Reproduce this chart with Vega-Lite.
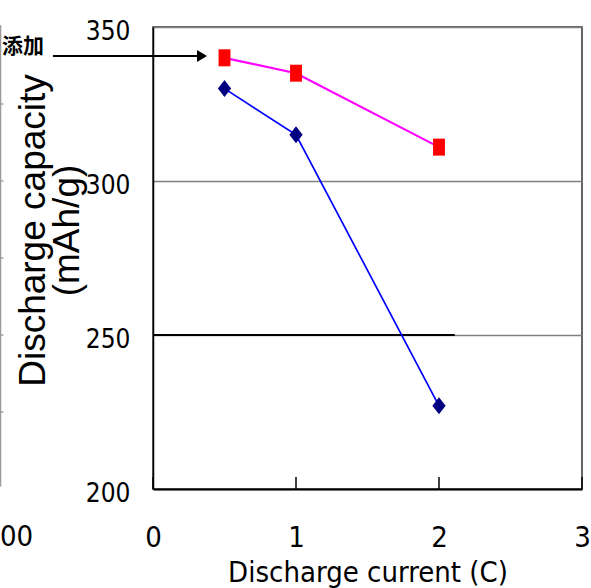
{
  "$schema": "https://vega.github.io/schema/vega-lite/v6.json",
  "width": 429,
  "height": 462,
  "autosize": "none",
  "padding": {"left": 153, "top": 27, "right": 9, "bottom": 99},
  "background": "white",
  "config": {"view": {"stroke": "#333333", "strokeWidth": 1.5}},
  "datasets": {
    "series": [
      {"s": "add", "x": 0.5, "y": 340},
      {"s": "add", "x": 1, "y": 335},
      {"s": "add", "x": 2, "y": 311},
      {"s": "base", "x": 0.5, "y": 330},
      {"s": "base", "x": 1, "y": 315},
      {"s": "base", "x": 2, "y": 227}
    ],
    "gridfix": [{"x": 0, "x2": 2.11, "y": 250}],
    "xticks": [
      {"x": 0, "y": 200, "y2": 203.9},
      {"x": 1, "y": 200, "y2": 203.9},
      {"x": 2, "y": 200, "y2": 203.9},
      {"x": 3, "y": 200, "y2": 203.9}
    ],
    "edge": [{"x": -1.065, "y": 350.6, "y2": 200.8}],
    "edgeTicks": [
      {"x": -1.065, "x2": -1.045, "y": 325},
      {"x": -1.065, "x2": -1.045, "y": 300},
      {"x": -1.065, "x2": -1.045, "y": 275},
      {"x": -1.065, "x2": -1.045, "y": 250},
      {"x": -1.065, "x2": -1.045, "y": 225}
    ],
    "arrow": [{"x": -0.70, "x2": 0.31, "y": 340.6}],
    "arrowHead": [{"x": 0.3427, "y": 340.6}],
    "label": [{"x": -1.056, "y": 343.5, "t": "添加"}],
    "cut": [{"x": -1.07, "y": 184.5, "t": "00"}]
  },
  "encoding": {
    "x": {
      "field": "x", "type": "quantitative",
      "scale": {"domain": [0, 3], "nice": false, "zero": false},
      "axis": {
        "values": [0, 1, 2, 3], "format": "d", "grid": false, "ticks": false,
        "title": "Discharge current (C)",
        "titleFont": "'DejaVu Sans Condensed', 'Liberation Sans', sans-serif",
        "titleFontSize": 29, "titleFontWeight": "normal",
        "titleColor": "black", "titleBaseline": "alphabetic", "titleY": 92,
        "labelFont": "'DejaVu Sans Condensed', 'Liberation Sans', sans-serif",
        "labelFontSize": 29, "labelColor": "black",
        "labelBaseline": "alphabetic", "labelPadding": 57, "labelFlush": false, "labelOverlap": false,
        "domainColor": "black", "domainWidth": 2
      }
    },
    "y": {
      "field": "y", "type": "quantitative",
      "scale": {"domain": [200, 350], "nice": false, "zero": false},
      "axis": {
        "values": [200, 250, 300, 350], "grid": true, "gridColor": "#808080", "gridWidth": 1.5,
        "ticks": false,
        "labelFont": "'DejaVu Sans Condensed', 'Liberation Sans', sans-serif",
        "labelFontSize": 26, "labelColor": "black",
        "labelPadding": 23, "labelBaseline": "middle", "labelOffset": 4,
        "domainColor": "black", "domainWidth": 1.5,
        "title": ["Discharge capacity", "(mAh/g)"],
        "titleFont": "Liberation Sans", "titleFontSize": 37, "titleFontWeight": "normal",
        "titleColor": "black", "titleAngle": -90, "titleAlign": "center", "titleBaseline": "top",
        "titleLineHeight": 34, "titleX": -138, "titleY": 203
      }
    }
  },
  "layer": [
    {
      "data": {"name": "gridfix"},
      "mark": {"type": "rule", "color": "black", "strokeWidth": 2},
      "encoding": {"x2": {"field": "x2"}}
    },
    {
      "data": {"name": "xticks"},
      "mark": {"type": "rule", "color": "black", "strokeWidth": 1.5},
      "encoding": {"y2": {"field": "y2"}}
    },
    {
      "data": {"name": "edge"},
      "mark": {"type": "rule", "color": "#808080", "strokeWidth": 1},
      "encoding": {"y2": {"field": "y2"}}
    },
    {
      "data": {"name": "edgeTicks"},
      "mark": {"type": "rule", "color": "#808080", "strokeWidth": 1},
      "encoding": {"x2": {"field": "x2"}}
    },
    {
      "data": {"name": "series"},
      "transform": [{"filter": "datum.s === 'add'"}],
      "mark": {"type": "line", "color": "#FF00FF", "strokeWidth": 2.2},
      "encoding": {}
    },
    {
      "data": {"name": "series"},
      "transform": [{"filter": "datum.s === 'base'"}],
      "mark": {"type": "line", "color": "#0000FF", "strokeWidth": 1.7},
      "encoding": {}
    },
    {
      "data": {"name": "series"},
      "transform": [{"filter": "datum.s === 'add'"}],
      "mark": {"type": "point", "filled": true, "color": "#FF0000", "opacity": 1,
               "shape": "M-0.7,-1L0.7,-1L0.7,1L-0.7,1Z", "size": 289}
    },
    {
      "data": {"name": "series"},
      "transform": [{"filter": "datum.s === 'base'"}],
      "mark": {"type": "point", "filled": true, "color": "#000080", "opacity": 1,
               "shape": "M0,-1L0.78,0L0,1L-0.78,0Z", "size": 289}
    },
    {
      "data": {"name": "arrow"},
      "mark": {"type": "rule", "color": "black", "strokeWidth": 2},
      "encoding": {"x2": {"field": "x2"}}
    },
    {
      "data": {"name": "arrowHead"},
      "mark": {"type": "point", "filled": true, "color": "black", "opacity": 1,
               "shape": "M-0.83,-1L0.83,0L-0.83,1Z", "size": 144}
    },
    {
      "data": {"name": "label"},
      "mark": {"type": "text", "align": "left", "baseline": "middle", "font": "Noto Sans CJK JP",
               "fontSize": 21, "fontWeight": "bold", "color": "black"},
      "encoding": {"text": {"field": "t"}}
    },
    {
      "data": {"name": "cut"},
      "mark": {"type": "text", "align": "left", "baseline": "middle",
               "font": "'DejaVu Sans Condensed', 'Liberation Sans', sans-serif",
               "fontSize": 29, "color": "black"},
      "encoding": {"text": {"field": "t"}}
    }
  ]
}
